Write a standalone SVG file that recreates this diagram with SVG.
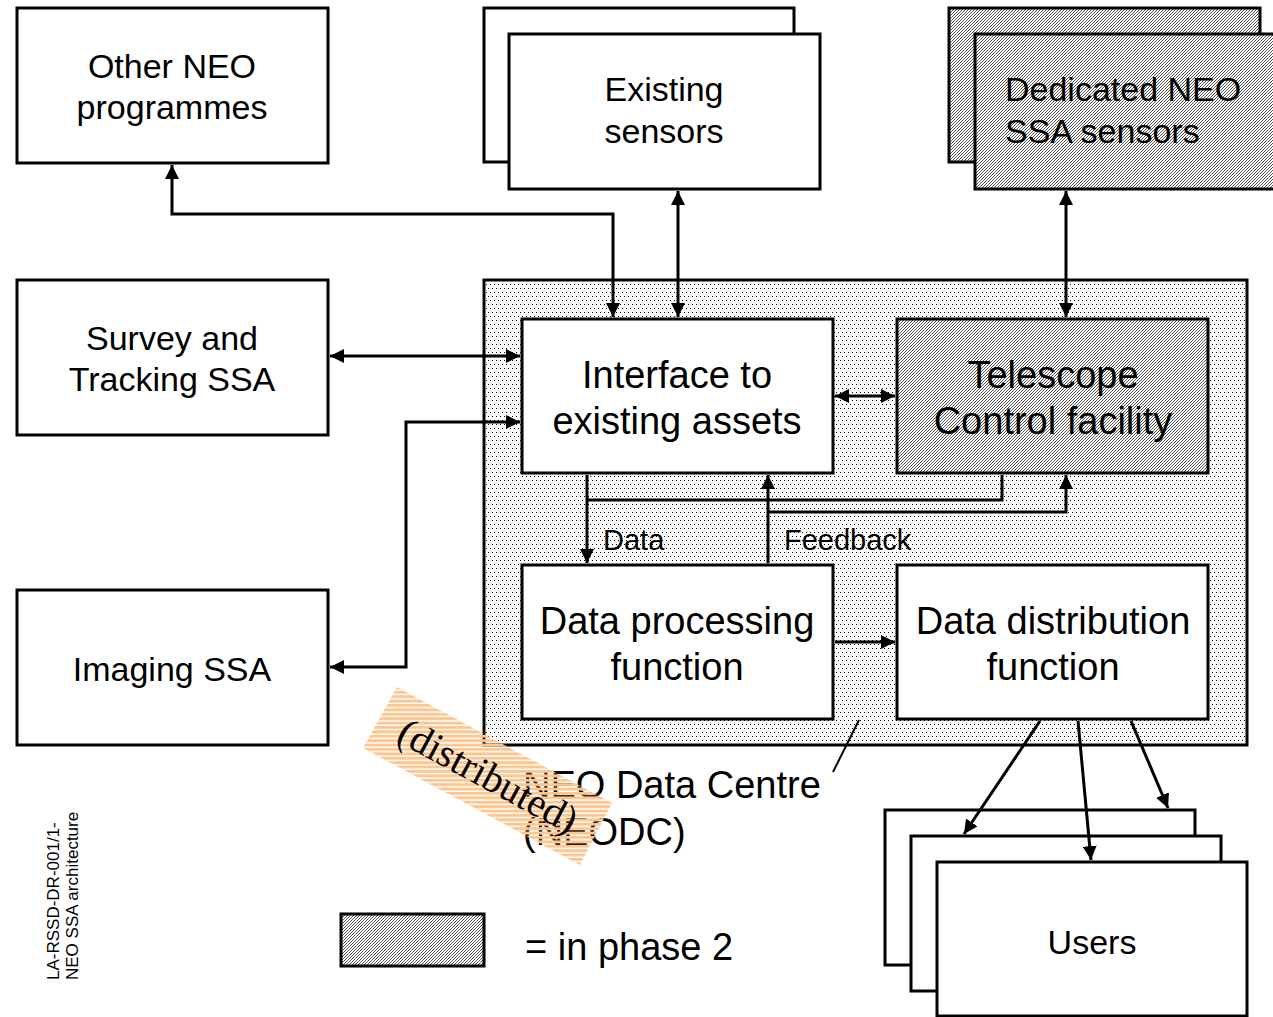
<svg xmlns="http://www.w3.org/2000/svg" width="1273" height="1017" viewBox="0 0 1273 1017">
<defs>
<style>
.box{stroke:#000;stroke-width:3;fill:#fff}
.dots{stroke:#000;stroke-width:3;fill:url(#dotPat)}
.hatch{stroke:#000;stroke-width:3;fill:url(#hatchPat)}
.t{font-family:"Liberation Sans",Arial,sans-serif;fill:#000}
.c{text-anchor:middle}
.f34{font-size:34px}
.f38{font-size:38px}
.f29{font-size:29px}
.conn path{fill:none;stroke:#000;stroke-width:3}
</style>
<pattern id="dotPat" patternUnits="userSpaceOnUse" width="4" height="8">
<rect width="4" height="8" fill="#fff"/>
<rect x="0" y="0" width="1" height="1" fill="#000"/>
<rect x="2" y="4" width="1" height="1" fill="#000"/>
</pattern>
<pattern id="hatchPat" patternUnits="userSpaceOnUse" width="3" height="3">
<rect width="3" height="3" fill="#fff"/>
<rect x="0" y="2" width="1" height="1" fill="#555"/>
<rect x="1" y="1" width="1" height="1" fill="#555"/>
<rect x="2" y="0" width="1" height="1" fill="#555"/>
</pattern>
<pattern id="stripePat" patternUnits="userSpaceOnUse" width="8" height="4.4">
<rect width="8" height="3" fill="#FDC690"/>
</pattern>
<marker id="ah" viewBox="0 0 14 14" refX="14" refY="7" markerWidth="14" markerHeight="14" markerUnits="userSpaceOnUse" orient="auto-start-reverse">
<path d="M0,0 L14,7 L0,14 z" fill="#000"/>
</marker>
</defs>

<g id="neodc">
<rect class="dots" x="484" y="280" width="763" height="465"/>
</g>

<g id="other-neo">
<rect class="box" x="17" y="8" width="311" height="155"/>
<text class="t c f34" x="172" y="78">Other NEO</text>
<text class="t c f34" x="172" y="119">programmes</text>
</g>

<g id="existing-sensors">
<rect class="box" x="484" y="8" width="310" height="154"/>
<rect class="box" x="509" y="34" width="311" height="155"/>
<text class="t c f34" x="664" y="101">Existing</text>
<text class="t c f34" x="664" y="143">sensors</text>
</g>

<g id="dedicated-sensors">
<rect class="hatch" x="949" y="8" width="311" height="154"/>
<rect class="hatch" x="975" y="34" width="311" height="155"/>
<text class="t f34" x="1005" y="101">Dedicated NEO</text>
<text class="t f34" x="1005" y="143">SSA sensors</text>
</g>

<g id="survey">
<rect class="box" x="17" y="280" width="311" height="155"/>
<text class="t c f34" x="172" y="350">Survey and</text>
<text class="t c f34" x="172" y="391">Tracking SSA</text>
</g>

<g id="imaging">
<rect class="box" x="17" y="590" width="311" height="155"/>
<text class="t c f34" x="172" y="681">Imaging SSA</text>
</g>

<g id="interface">
<rect class="box" x="522" y="319" width="311" height="154"/>
<text class="t c f38" x="677" y="388">Interface to</text>
<text class="t c f38" x="677" y="434">existing assets</text>
</g>

<g id="telescope">
<rect class="hatch" x="897" y="319" width="311" height="154"/>
<text class="t c f38" x="1053" y="388">Telescope</text>
<text class="t c f38" x="1053" y="434">Control facility</text>
</g>

<g id="data-processing">
<rect class="box" x="522" y="565" width="311" height="154"/>
<text class="t c f38" x="677" y="634">Data processing</text>
<text class="t c f38" x="677" y="680">function</text>
</g>

<g id="data-distribution">
<rect class="box" x="897" y="565" width="311" height="154"/>
<text class="t c f38" x="1053" y="634">Data distribution</text>
<text class="t c f38" x="1053" y="680">function</text>
</g>

<g id="users">
<rect class="box" x="885" y="810" width="310" height="155"/>
<rect class="box" x="911" y="836" width="310" height="155"/>
<rect class="box" x="937" y="862" width="310" height="154"/>
<text class="t c f34" x="1092" y="954">Users</text>
</g>

<g class="conn" id="connectors">
<path d="M172,165 V214 H613 V317" marker-start="url(#ah)" marker-end="url(#ah)"/>
<path d="M678,191 V317" marker-start="url(#ah)" marker-end="url(#ah)"/>
<path d="M1066,191 V317" marker-start="url(#ah)" marker-end="url(#ah)"/>
<path d="M330,356 H520" marker-start="url(#ah)" marker-end="url(#ah)"/>
<path d="M520,422 H406 V667 H330" marker-start="url(#ah)" marker-end="url(#ah)"/>
<path d="M835,396 H895" marker-start="url(#ah)" marker-end="url(#ah)"/>
<path d="M587,475 V563" marker-end="url(#ah)"/>
<path d="M1002,475 V500 H587"/>
<path d="M768,563 V475" marker-end="url(#ah)"/>
<path d="M768,512 H1066 V475" marker-end="url(#ah)"/>
<path d="M835,642 H895" marker-end="url(#ah)"/>
<path d="M1040,721 L964,834" marker-end="url(#ah)"/>
<path d="M1078,721 L1091,860" marker-end="url(#ah)"/>
<path d="M1131,721 L1168,808" marker-end="url(#ah)"/>
<path d="M833,772 L859,720" style="stroke-width:2"/>
</g>

<g id="flow-labels">
<text class="t f29" x="603" y="550">Data</text>
<text class="t f29" x="784" y="550">Feedback</text>
</g>

<g id="neodc-label">
<text class="t f38" x="523" y="798">NEO Data Centre</text>
<text class="t f38" x="523" y="845">(NEODC)</text>
</g>

<g id="distributed-stamp">
<polygon points="397,687 612,803 580,865 363,748" fill="url(#stripePat)"/>
<text transform="translate(488,776) rotate(28.4)" x="0" y="13" text-anchor="middle" font-family="'Liberation Serif','Times New Roman',serif" font-size="40" fill="#000">(distributed)</text>
</g>

<g id="legend">
<rect class="hatch" x="341" y="914" width="143" height="52"/>
<text class="t f38" x="525" y="960">= in phase 2</text>
</g>

<g id="doc-ref">
<text class="t" font-size="17" transform="translate(59,980) rotate(-90)">LA-RSSD-DR-001/1-</text>
<text class="t" font-size="17" transform="translate(78,980) rotate(-90)">NEO SSA architecture</text>
</g>
</svg>
